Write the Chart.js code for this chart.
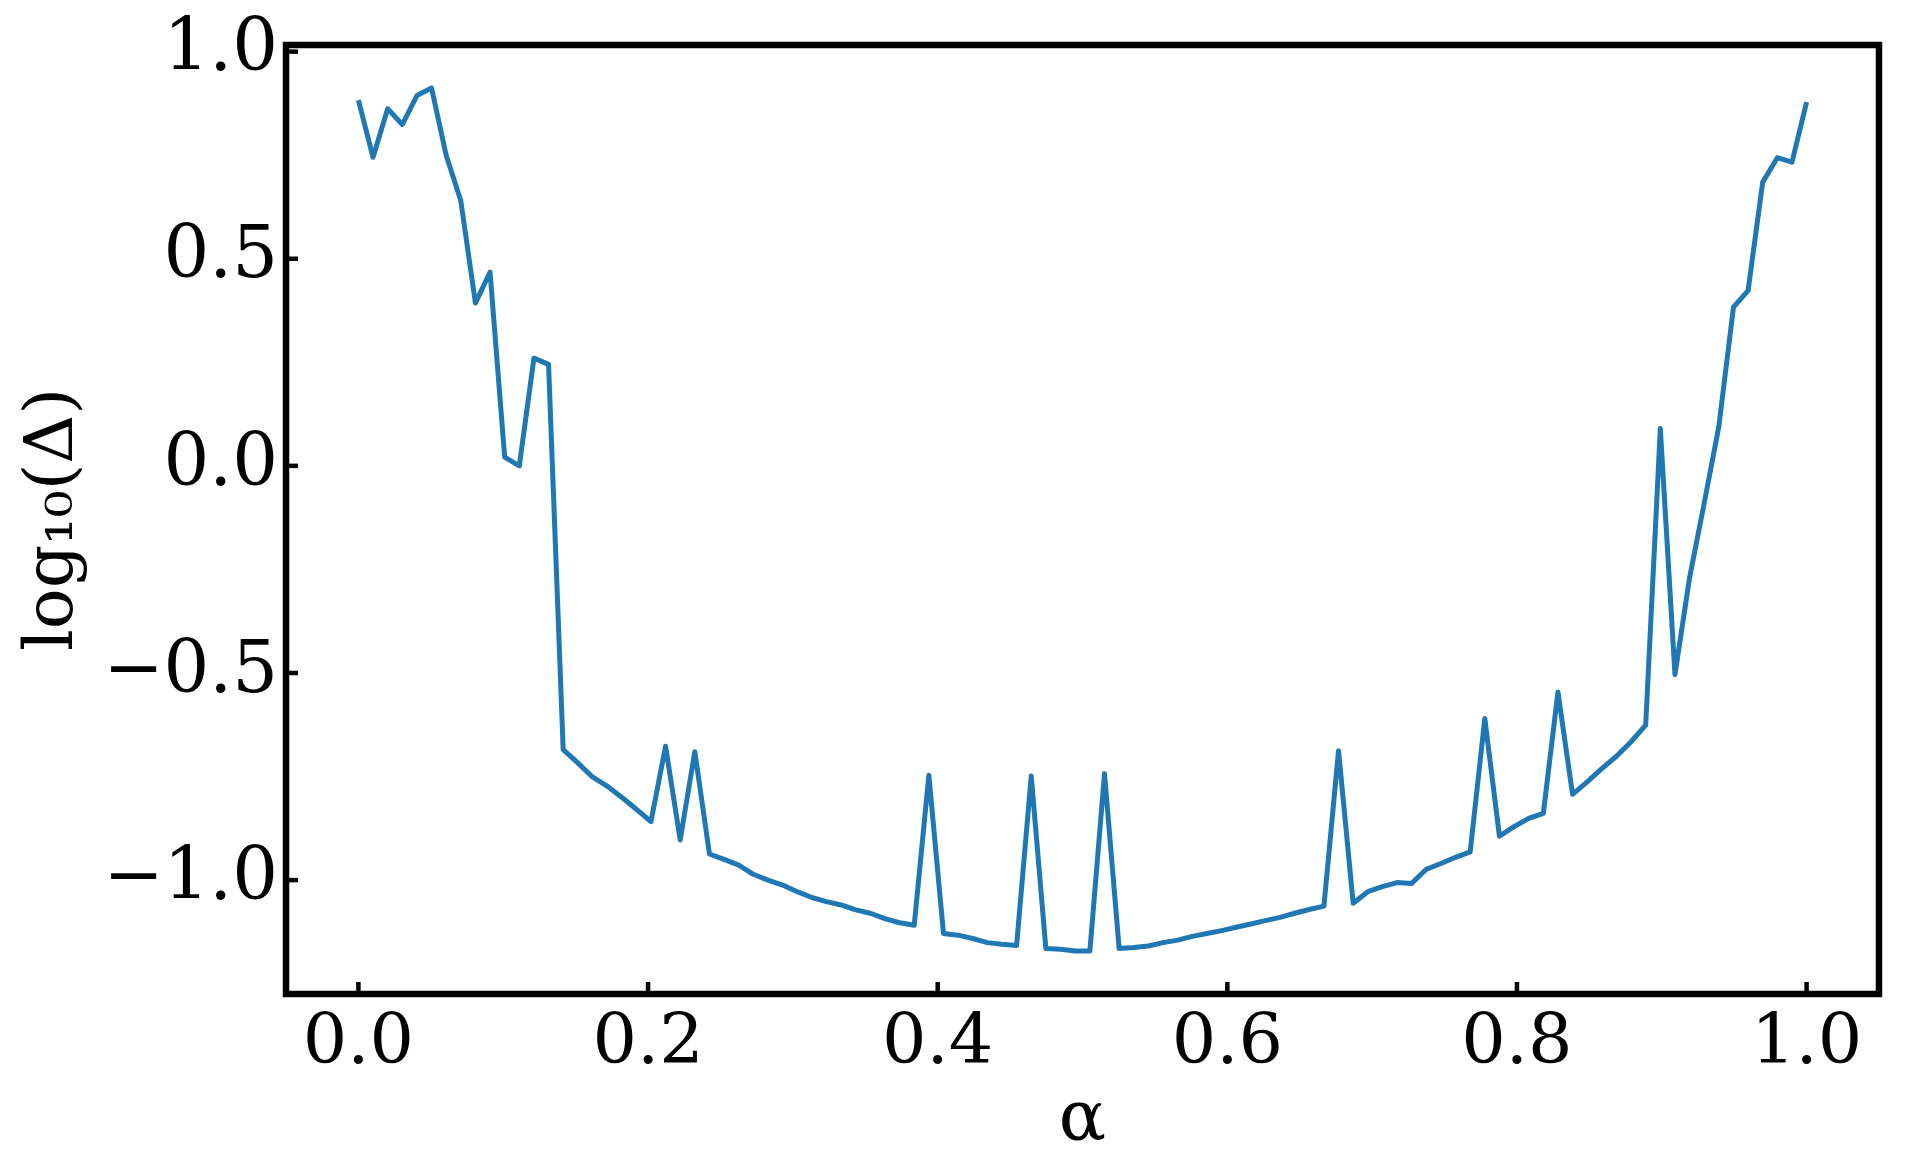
<!DOCTYPE html>
<html>
<head>
<meta charset="utf-8">
<script src="https://cdn.jsdelivr.net/npm/chart.js@4.4.1/dist/chart.umd.min.js"></script>
<style>
  html, body { margin: 0; padding: 0; background: #fff; }
  canvas { display: block; }
</style>
</head>
<body>
<canvas id="myChart" width="1913" height="1158"></canvas>
<script>
const alpha = [
    0.0000, 0.0101, 0.0202, 0.0303, 0.0404, 0.0505, 0.0606, 0.0707, 0.0808, 0.0909,
    0.1010, 0.1111, 0.1212, 0.1313, 0.1414, 0.1515, 0.1616, 0.1717, 0.1818, 0.1919,
    0.2020, 0.2121, 0.2222, 0.2323, 0.2424, 0.2525, 0.2626, 0.2727, 0.2828, 0.2929,
    0.3030, 0.3131, 0.3232, 0.3333, 0.3434, 0.3535, 0.3636, 0.3737, 0.3838, 0.3939,
    0.4040, 0.4141, 0.4242, 0.4343, 0.4444, 0.4545, 0.4646, 0.4747, 0.4848, 0.4949,
    0.5051, 0.5152, 0.5253, 0.5354, 0.5455, 0.5556, 0.5657, 0.5758, 0.5859, 0.5960,
    0.6061, 0.6162, 0.6263, 0.6364, 0.6465, 0.6566, 0.6667, 0.6768, 0.6869, 0.6970,
    0.7071, 0.7172, 0.7273, 0.7374, 0.7475, 0.7576, 0.7677, 0.7778, 0.7879, 0.7980,
    0.8081, 0.8182, 0.8283, 0.8384, 0.8485, 0.8586, 0.8687, 0.8788, 0.8889, 0.8990,
    0.9091, 0.9192, 0.9293, 0.9394, 0.9495, 0.9596, 0.9697, 0.9798, 0.9899, 1.0000
];
const logDelta = [
    0.883, 0.745, 0.862, 0.824, 0.894, 0.912, 0.750, 0.640, 0.393, 0.468,
    0.021, 0.000, 0.260, 0.245, -0.685, -0.717, -0.751, -0.773, -0.800, -0.829,
    -0.859, -0.677, -0.903, -0.690, -0.937, -0.950, -0.964, -0.986, -1.000, -1.012,
    -1.028, -1.042, -1.052, -1.060, -1.072, -1.080, -1.093, -1.103, -1.109, -0.747,
    -1.129, -1.133, -1.141, -1.151, -1.155, -1.158, -0.749, -1.165, -1.167, -1.171,
    -1.171, -0.743, -1.165, -1.163, -1.159, -1.151, -1.145, -1.136, -1.129, -1.122,
    -1.114, -1.106, -1.098, -1.090, -1.080, -1.071, -1.063, -0.688, -1.056, -1.028,
    -1.016, -1.006, -1.008, -0.974, -0.960, -0.945, -0.932, -0.610, -0.894, -0.871,
    -0.851, -0.839, -0.546, -0.793, -0.763, -0.731, -0.701, -0.666, -0.626, 0.090,
    -0.504, -0.270, -0.090, 0.095, 0.383, 0.423, 0.685, 0.744, 0.733, 0.878
];
const xTicks = [0.0, 0.2, 0.4, 0.6, 0.8, 1.0];
const yTicks = [-1.0, -0.5, 0.0, 0.5, 1.0];

const fmt = v => v.toFixed(1).replace('-', '\u2212');

// matplotlib style box + inward ticks
const frame = {
    id: 'frame',
    afterDraw(chart) {
        const {ctx, chartArea: a, scales: {x, y}} = chart;
        ctx.save();
        ctx.strokeStyle = '#000';
        ctx.lineWidth = 4.5;
        xTicks.forEach(v => {
            const px = x.getPixelForValue(v);
            ctx.beginPath();
            ctx.moveTo(px, a.bottom);
            ctx.lineTo(px, a.bottom - 12);
            ctx.stroke();
        });
        yTicks.forEach(v => {
            const py = y.getPixelForValue(v);
            ctx.beginPath();
            ctx.moveTo(a.left, py);
            ctx.lineTo(a.left + 12, py);
            ctx.stroke();
        });
        ctx.lineWidth = 6.5;
        ctx.strokeRect(a.left, a.top, a.right - a.left, a.bottom - a.top);
        ctx.restore();
    }
};

const ctx = document.getElementById('myChart').getContext('2d');
new Chart(ctx, {
    type: 'line',
    data: {
        datasets: [{
            data: alpha.map((a, i) => ({x: a, y: logDelta[i]})),
            borderColor: '#1f77b4',
            borderWidth: 5,
            borderJoinStyle: 'round',
            borderCapStyle: 'butt',
            pointRadius: 0,
            tension: 0,
            fill: false
        }]
    },
    options: {
        responsive: false,
        devicePixelRatio: 1,
        animation: false,
        layout: { padding: { top: 45, right: 34, left: 0, bottom: 0 } },
        plugins: { legend: { display: false }, tooltip: { enabled: false } },
        scales: {
            x: {
                type: 'linear',
                min: -0.05,
                max: 1.05,
                afterBuildTicks: s => { s.ticks = xTicks.map(v => ({value: v})); },
                afterFit: s => { s.height = 164; s.paddingLeft = 0; s.paddingRight = 0; },
                grid: { display: false, drawTicks: false },
                border: { display: false },
                ticks: {
                    callback: fmt,
                    padding: 9,
                    maxRotation: 0,
                    color: '#000',
                    font: { family: 'DejaVu Serif', size: 70 }
                },
                title: {
                    display: true,
                    text: '\u03b1',
                    color: '#000',
                    padding: { top: 0, bottom: 2 },
                    font: { family: 'DejaVu Serif', size: 70, lineHeight: 1 }
                }
            },
            y: {
                type: 'linear',
                min: -1.275,
                max: 1.016,
                afterBuildTicks: s => { s.ticks = yTicks.map(v => ({value: v})); },
                afterFit: s => { s.width = 286; s.paddingTop = 0; s.paddingBottom = 0; },
                grid: { display: false, drawTicks: false },
                border: { display: false },
                ticks: {
                    callback: fmt,
                    padding: 8,
                    color: '#000',
                    font: { family: 'DejaVu Serif', size: 72 }
                },
                title: {
                    display: true,
                    text: 'log\u2081\u2080(\u0394)',
                    color: '#000',
                    padding: { top: 20, bottom: 0 },
                    font: { family: 'DejaVu Serif', size: 68, lineHeight: 1 }
                }
            }
        }
    },
    plugins: [frame]
});
</script>
</body>
</html>
